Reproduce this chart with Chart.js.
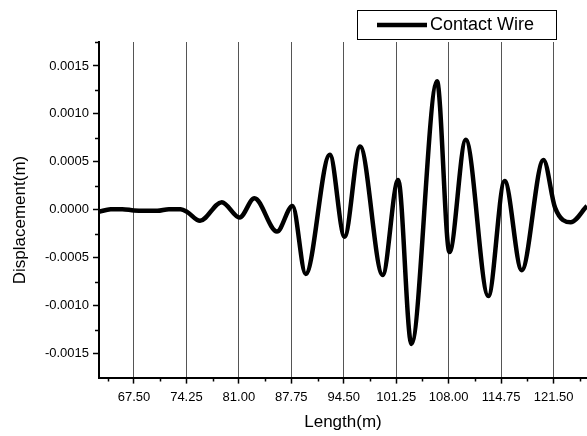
<!DOCTYPE html>
<html>
<head>
<meta charset="utf-8">
<script src="https://cdn.jsdelivr.net/npm/chart.js@4.4.1/dist/chart.umd.min.js"></script>
<style>
  html, body { margin: 0; padding: 0; background: #fff; }
  #box { width: 587px; height: 436px; }
</style>
</head>
<body>
<div id="box"><canvas id="chart"></canvas></div>
<script>
// values
const lengthM = [63.0, 64.5, 66.0, 67.5, 69.0, 70.5, 72.0, 73.5, 74.3, 76.0, 78.8, 81.1, 83.0, 85.9, 87.9,
  89.6, 92.7, 94.6, 96.6, 99.5, 101.5, 103.2, 106.5, 108.1, 110.2, 113.1, 115.2, 117.4, 120.2, 121.7, 123.7, 125.8];
const displacement = [-0.00002, 0.000005, 0.000007, -0.000007, -0.00001, -0.00001, 0.000007, 0.000005, -0.00002,
  -0.000115, 0.00008, -0.00008, 0.00012, -0.000227, 0.00004,
  -0.00067, 0.000575, -0.00028, 0.00066, -0.00068, 0.00031, -0.0014, 0.00134, -0.00044, 0.00073,
  -0.0009, 0.0003, -0.00063, 0.00052, 0.00002, -0.00013, 0.00004];
const xTicks = [67.5, 74.25, 81, 87.75, 94.5, 101.25, 108, 114.75, 121.5];
const xMinorTicks = [64.125, 70.875, 77.625, 84.375, 91.125, 97.875, 104.625, 111.375, 118.125, 124.875];
const yTicks = [-0.0015, -0.001, -0.0005, 0, 0.0005, 0.001, 0.0015];
const yMinorTicks = [-0.00125, -0.00075, -0.00025, 0.00025, 0.00075, 0.00125, 0.00175];

const font = 'Liberation Sans, Arial, sans-serif';

// minor ticks, boxed legend and y title
const extras = {
  id: 'extras',
  afterDraw(chart) {
    const ctx = chart.ctx;
    const x = chart.scales.x, y = chart.scales.y;
    ctx.save();
    ctx.strokeStyle = '#000';
    ctx.lineWidth = 1.5;
    ctx.beginPath();
    xMinorTicks.forEach(v => {
      const px = Math.round(x.getPixelForValue(v)) + 0.5;
      ctx.moveTo(px, x.top);
      ctx.lineTo(px, x.top + 4);
    });
    yMinorTicks.forEach(v => {
      const py = Math.round(y.getPixelForValue(v)) + 0.5;
      ctx.moveTo(y.right, py);
      ctx.lineTo(y.right - 4, py);
    });
    ctx.stroke();

    // legend
    ctx.fillStyle = '#fff';
    ctx.fillRect(357, 10, 199, 29);
    ctx.lineWidth = 1;
    ctx.strokeRect(357.5, 10.5, 199, 29);
    ctx.lineWidth = 4.5;
    ctx.beginPath();
    ctx.moveTo(377, 25);
    ctx.lineTo(427, 25);
    ctx.stroke();
    ctx.fillStyle = '#000';
    ctx.font = '18px ' + font;
    ctx.textBaseline = 'middle';
    ctx.textAlign = 'left';
    ctx.fillText(chart.data.datasets[0].label, 430, 25);

    // y axis title
    ctx.translate(20, 220);
    ctx.rotate(-Math.PI / 2);
    ctx.font = '17px ' + font;
    ctx.textAlign = 'center';
    ctx.fillText('Displacement(m)', 0, 0);
    ctx.restore();
  }
};

new Chart(document.getElementById('chart'), {
  type: 'line',
  data: {
    datasets: [{
      label: 'Contact Wire',
      data: lengthM.map((v, i) => ({ x: v, y: displacement[i] })),
      borderColor: '#000',
      borderWidth: 4.5,
      pointRadius: 0,
      fill: false,
      cubicInterpolationMode: 'monotone'
    }]
  },
  options: {
    responsive: true,
    maintainAspectRatio: false,
    animation: false,
    layout: { padding: { top: 42, right: 0, left: 0, bottom: 0 } },
    plugins: {
      legend: { display: false },
      tooltip: { enabled: false }
    },
    scales: {
      x: {
        type: 'linear',
        min: 63,
        max: 125.8,
        afterBuildTicks: s => { s.ticks = xTicks.map(v => ({ value: v })); },
        afterFit: s => { s.height = 58.4; },
        grid: { color: '#555', lineWidth: 1, tickLength: 6, tickColor: '#000', tickWidth: 1.5 },
        border: { display: true, color: '#000', width: 2 },
        ticks: {
          color: '#000',
          font: { family: font, size: 13 },
          padding: 6,
          maxRotation: 0,
          autoSkip: false,
          callback: v => v.toFixed(2)
        },
        title: {
          display: true,
          text: 'Length(m)',
          color: '#000',
          font: { family: font, size: 17 },
          padding: { top: 0, bottom: 3 }
        }
      },
      y: {
        min: -0.00175,
        max: 0.00175,
        afterBuildTicks: s => { s.ticks = yTicks.map(v => ({ value: v })); },
        afterFit: s => { s.width = 99; },
        grid: { drawOnChartArea: false, tickLength: 6, tickColor: '#000', tickWidth: 1.5 },
        border: { display: true, color: '#000', width: 2 },
        ticks: {
          color: '#000',
          font: { family: font, size: 13 },
          padding: 4,
          callback: v => v.toFixed(4)
        }
      }
    }
  },
  plugins: [extras]
});
</script>
</body>
</html>
